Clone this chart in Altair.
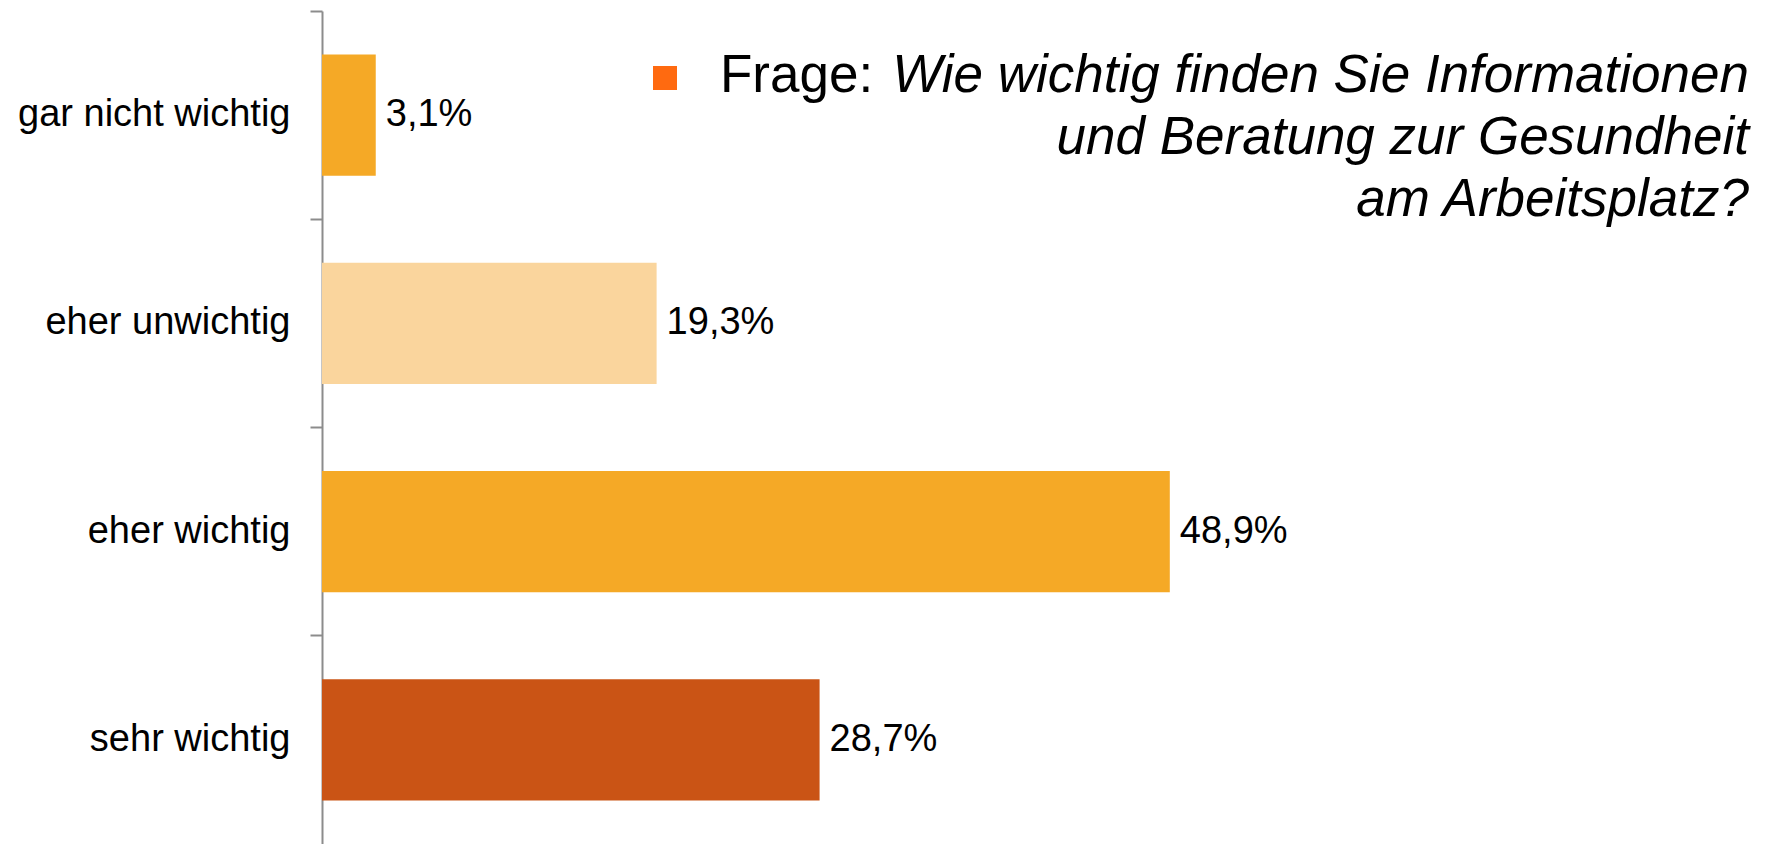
import altair as alt
import pandas as pd

categories = ["gar nicht wichtig", "eher unwichtig", "eher wichtig", "sehr wichtig"]
values = [3.1, 19.3, 48.9, 28.7]
colors = ["#F5A926", "#FAD59D", "#F5A926", "#CA5415"]

title_prefix = "Frage:"
title_lines = [
    "Wie wichtig finden Sie Informationen",
    "und Beratung zur Gesundheit",
    "am Arbeitsplatz?",
]

df = pd.DataFrame({"cat": categories, "value": values})

FONT = "Liberation Sans"

base = alt.Chart(df)

y_enc = alt.Y(
    "cat:N",
    sort=categories,
    scale=alt.Scale(paddingInner=0, paddingOuter=0),
    axis=alt.Axis(
        title=None,
        bandPosition=0,
        tickSize=12,
        tickColor="#8c8c8c",
        tickWidth=2,
        domainColor="#8c8c8c",
        domainWidth=2,
        labelPadding=20,
        labelFontSize=38,
        labelFont=FONT,
        labelColor="#000000",
        labelLimit=500,
    ),
)
x_enc = alt.X("value:Q", scale=alt.Scale(domain=[0, 80]), axis=None)

bars = base.mark_bar(height={"band": 0.583}).encode(
    y=y_enc,
    x=x_enc,
    color=alt.Color("cat:N", scale=alt.Scale(domain=categories, range=colors), legend=None),
)

labels = base.transform_calculate(
    lbl="replace(format(datum.value, '.1f'), '.', ',') + '%'"
).mark_text(align="left", baseline="middle", dx=10, fontSize=38, font=FONT, color="#000000").encode(
    y=alt.Y("cat:N", sort=categories),
    x="value:Q",
    text="lbl:N",
)

square = alt.Chart(pd.DataFrame({"t": [title_prefix]})).mark_square(
    size=576, color="#FF6A10", opacity=1
).encode(x=alt.value(343), y=alt.value(67))

prefix = alt.Chart(pd.DataFrame({"t": [title_prefix]})).mark_text(
    align="left", baseline="alphabetic", fontSize=53, font=FONT, color="#000000"
).encode(text="t:N", x=alt.value(398), y=alt.value(81))

line_layers = []
for i, line in enumerate(title_lines):
    line_layers.append(
        alt.Chart(pd.DataFrame({"t": [line]})).mark_text(
            align="right", baseline="alphabetic", fontSize=53, font=FONT,
            fontStyle="italic", color="#000000"
        ).encode(text="t:N", x=alt.value(1427), y=alt.value(81 + 62 * i))
    )

chart = alt.layer(bars, labels, square, prefix, *line_layers).properties(
    width=1387,
    height=833,
    padding={"left": 314, "top": 3, "right": 52, "bottom": 0},
    autosize=alt.AutoSizeParams(type="none"),
    background="white",
).configure_view(stroke=None)

chart.save("out.html", embed_options={"renderer": "svg", "actions": False})
